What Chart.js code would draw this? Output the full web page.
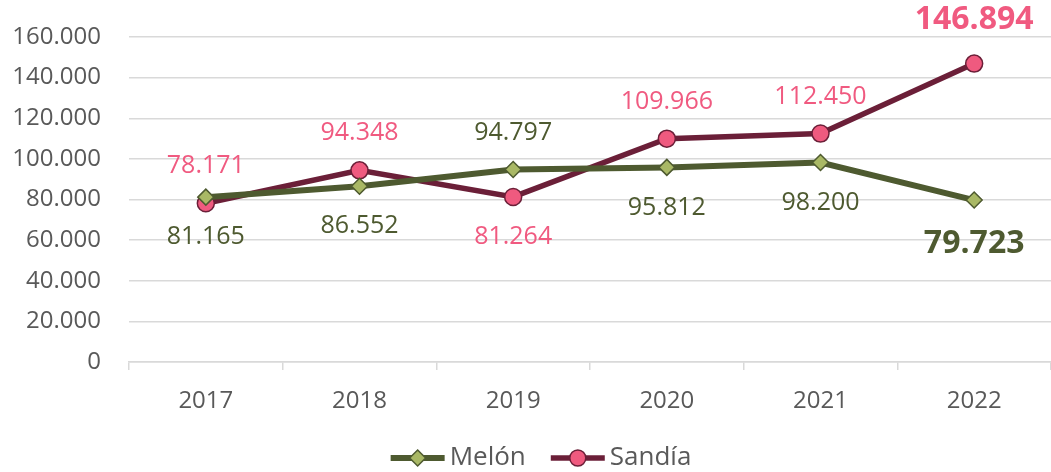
<!DOCTYPE html>
<html>
<head>
<meta charset="utf-8">
<script src="https://cdn.jsdelivr.net/npm/chart.js@4"></script>
<style>
  html, body { margin: 0; padding: 0; background: #fff; }
  #wrap { width: 1051px; height: 472px; }
</style>
</head>
<body>
<div id="wrap"><canvas id="chart"></canvas></div>
<script>
const years = ['2017', '2018', '2019', '2020', '2021', '2022'];
const melon = [81165, 86552, 94797, 95812, 98200, 79723];
const sandia = [78171, 94348, 81264, 109966, 112450, 146894];

// donde va cada etiqueta: -1 encima, 1 debajo
const melonSide = [1, 1, -1, 1, 1, 1];
const sandiaSide = [-1, -1, 1, -1, -1, -1];

const FONT = "'Open Sans', sans-serif";
const melonDark = '#4e5a30';
const melonFill = '#a9b865';
const sandiaDark = '#6b1f38';
const sandiaFill = '#ef5a7f';
const sandiaText = '#f05a80';

function fmt(v) {
    return String(v).replace(/\B(?=(\d{3})+(?!\d))/g, '.');
}

function drawMarker(ctx, x, y, shape, color, fill) {
    ctx.fillStyle = fill;
    ctx.strokeStyle = color;
    ctx.lineWidth = 1.5;
    ctx.beginPath();
    if (shape == 'diamond') {
        ctx.moveTo(x, y - 8);
        ctx.lineTo(x + 8, y);
        ctx.lineTo(x, y + 8);
        ctx.lineTo(x - 8, y);
        ctx.closePath();
    } else {
        ctx.arc(x, y, 8, 0, Math.PI * 2);
    }
    ctx.fill();
    ctx.stroke();
}

const valueLabels = {
    id: 'valueLabels',
    afterDatasetsDraw(chart) {
        const ctx = chart.ctx;
        const sets = [
            { idx: 0, values: melon, side: melonSide, color: melonDark },
            { idx: 1, values: sandia, side: sandiaSide, color: sandiaText }
        ];
        ctx.save();
        ctx.textAlign = 'center';
        ctx.textBaseline = 'middle';
        sets.forEach(s => {
            const meta = chart.getDatasetMeta(s.idx);
            meta.data.forEach((pt, i) => {
                const last = i == s.values.length - 1;
                ctx.font = (last ? 'bold 32px ' : '25px ') + FONT;
                ctx.fillStyle = s.color;
                let off = s.side[i] < 0 ? 37 : 40;
                if (last) off = 44;
                ctx.fillText(fmt(s.values[i]), pt.x, pt.y + s.side[i] * off);
            });
        });
        ctx.restore();
    }
};

// leyenda propia: linea + marcador + texto
const lineLegend = {
    id: 'lineLegend',
    afterDraw(chart) {
        const ctx = chart.ctx;
        const items = [
            { text: 'Melón', color: melonDark, fill: melonFill, shape: 'diamond', w: 6 },
            { text: 'Sandía', color: sandiaDark, fill: sandiaFill, shape: 'circle', w: 5.5 }
        ];
        ctx.save();
        ctx.font = '26px ' + FONT;
        ctx.textBaseline = 'middle';
        ctx.textAlign = 'left';
        const widths = items.map(it => ctx.measureText(it.text).width);
        let total = 0;
        widths.forEach(w => total += 54 + 5 + w);
        total += 25;
        let x = 541 - total / 2;
        const y = 458;
        items.forEach((it, i) => {
            ctx.strokeStyle = it.color;
            ctx.lineWidth = it.w;
            ctx.beginPath();
            ctx.moveTo(x, y);
            ctx.lineTo(x + 54, y);
            ctx.stroke();
            drawMarker(ctx, x + 27, y, it.shape, it.color, it.fill);
            ctx.fillStyle = '#595959';
            ctx.fillText(it.text, x + 59, y);
            x += 54 + 5 + widths[i] + 25;
        });
        ctx.restore();
    }
};

const data = {
    labels: years,
    datasets: [
        {
            label: 'Melón',
            data: melon,
            borderColor: melonDark,
            backgroundColor: melonFill,
            borderWidth: 6,
            pointStyle: 'rectRot',
            pointRadius: 8,
            pointHoverRadius: 8,
            pointBackgroundColor: melonFill,
            pointBorderColor: melonDark,
            pointBorderWidth: 1.5,
            tension: 0
        },
        {
            label: 'Sandía',
            data: sandia,
            borderColor: sandiaDark,
            backgroundColor: sandiaFill,
            borderWidth: 5.5,
            pointStyle: 'circle',
            pointRadius: 8.5,
            pointHoverRadius: 8.5,
            pointBackgroundColor: sandiaFill,
            pointBorderColor: sandiaDark,
            pointBorderWidth: 1.5,
            tension: 0
        }
    ]
};

new Chart(document.getElementById('chart'), {
    type: 'line',
    data: data,
    plugins: [valueLabels, lineLegend],
    options: {
        responsive: true,
        maintainAspectRatio: false,
        animation: false,
        layout: { autoPadding: false, padding: { top: 37, right: 0, left: 0, bottom: 0 } },
        plugins: {
            tooltip: { enabled: false },
            legend: { display: false }
        },
        scales: {
            x: {
                offset: true,
                grid: {
                    offset: true,
                    drawOnChartArea: false,
                    drawTicks: true,
                    tickLength: 8,
                    color: '#d9d9d9',
                    lineWidth: 1.5
                },
                border: { color: '#d9d9d9', width: 1.5 },
                ticks: {
                    color: '#595959',
                    padding: 17,
                    font: { family: FONT, size: 24 }
                },
                afterFit(scale) {
                    scale.height = 110;
                    scale.paddingLeft = 0;
                    scale.paddingRight = 0;
                }
            },
            y: {
                min: 0,
                max: 160000,
                ticks: {
                    stepSize: 20000,
                    color: '#595959',
                    padding: 28,
                    font: { family: FONT, size: 24 },
                    callback: (v) => fmt(v)
                },
                grid: {
                    color: '#d9d9d9',
                    lineWidth: 1.5,
                    drawTicks: false
                },
                border: { display: false },
                afterFit(scale) {
                    scale.width = 129;
                    scale.paddingTop = 0;
                    scale.paddingBottom = 0;
                }
            }
        }
    }
});
</script>
</body>
</html>
